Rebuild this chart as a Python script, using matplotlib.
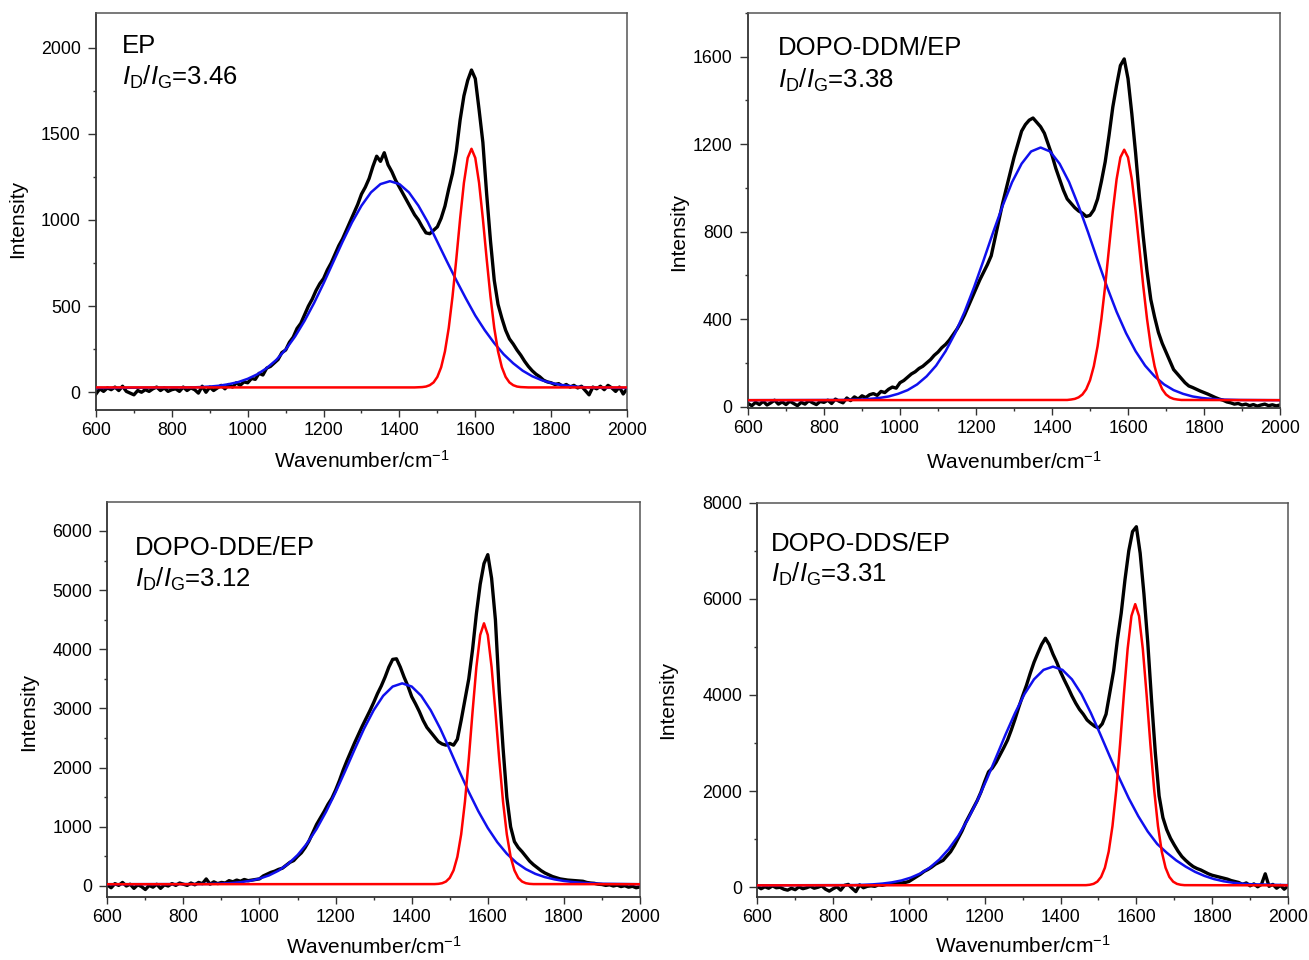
import numpy as np
import matplotlib
matplotlib.use('Agg')
import matplotlib.pyplot as plt
from matplotlib.ticker import MultipleLocator

plt.rcParams['font.family'] = ['Liberation Sans', 'DejaVu Sans']
plt.rcParams['mathtext.fontset'] = 'custom'
plt.rcParams['mathtext.rm'] = 'Liberation Sans'
plt.rcParams['mathtext.it'] = 'Liberation Sans:italic'
plt.rcParams['mathtext.bf'] = 'Liberation Sans:bold'

# measured Raman spectra, read every 10 cm-1
wn = np.arange(600, 2001, 10)

ep_raw = [
    -10, 20, 5, 25, 15, 30, 10, 35, 5, -5,
    -15, 10, 0, 15, 5, 20, 30, 10, 25, 5,
    15, 20, 5, 30, 10, 25, 15, -5, 35, 0,
    30, 10, 25, 40, 20, 45, 30, 55, 40, 60,
    55, 80, 75, 110, 100, 140, 150, 170, 190, 230,
    245, 290, 320, 370, 400, 450, 500, 540, 590, 630,
    660, 710, 750, 800, 850, 890, 940, 990, 1040, 1090,
    1150, 1190, 1240, 1310, 1370, 1340, 1390, 1320, 1280, 1230,
    1190, 1150, 1110, 1070, 1030, 1000, 960, 925, 920, 940,
    960, 1010, 1080, 1180, 1270, 1400, 1580, 1720, 1810, 1870,
    1820, 1640, 1450, 1150, 880, 650, 510, 430, 360, 310,
    280, 245, 215, 180, 150, 125, 105, 90, 70, 60,
    55, 45, 50, 35, 45, 30, 40, 25, 35, 10,
    -15, 30, 20, 35, 15, 40, 25, 5, 30, -10,
    20]

ddm_raw = [
    15, 5, 20, 10, 25, 8, 18, 30, 12, 22,
    10, 25, 15, 5, 20, 12, 28, 18, 10, 24,
    20, 30, 15, 35, 25, 18, 40, 28, 45, 35,
    50, 42, 55, 60, 52, 70, 65, 80, 90, 85,
    110, 120, 135, 150, 160, 175, 185, 200, 215, 235,
    250, 270, 285, 305, 330, 355, 385, 420, 460, 500,
    540, 580, 615, 650, 690, 770, 850, 930, 1000, 1070,
    1140, 1200, 1260, 1290, 1310, 1320, 1300, 1280, 1250, 1200,
    1150, 1090, 1040, 990, 950, 930, 910, 895, 885, 870,
    875, 900, 950, 1030, 1120, 1240, 1370, 1470, 1560, 1590,
    1500, 1340, 1160, 960, 780, 620, 490, 410, 340, 290,
    250, 210, 170, 150, 130, 110, 95, 88, 80, 72,
    65, 58, 50, 42, 35, 30, 22, 18, 12, 15,
    8, 12, 5, 10, 3, 8, 12, 5, 9, 4,
    8]

dde_raw = [
    20, -30, 40, 10, 60, 0, 30, -40, 20, -10,
    -60, 10, -20, 30, -40, 20, 0, 40, 10, 50,
    30, 10, 50, 20, 60, 40, 119, 30, 70, 40,
    60, 50, 90, 70, 100, 80, 110, 90, 100, 110,
    120, 170, 200, 230, 250, 280, 300, 350, 400, 430,
    500, 560, 650, 760, 900, 1040, 1150, 1260, 1380, 1480,
    1620, 1780, 1960, 2120, 2270, 2420, 2560, 2700, 2830, 2960,
    3100, 3250, 3380, 3530, 3700, 3830, 3840, 3700, 3530, 3380,
    3200, 3080, 2950, 2800, 2680, 2600, 2520, 2440, 2400, 2380,
    2410, 2380, 2480, 2800, 3150, 3500, 4000, 4600, 5100, 5450,
    5600, 5200, 4500, 3300, 2340, 1500, 1000, 750, 650, 580,
    500, 420, 360, 310, 260, 220, 190, 160, 140, 120,
    110, 100, 95, 90, 85, 80, 60, 50, 45, 30,
    25, 10, 20, 0, 15, -10, 5, -20, -5, -30,
    -15]

dds_raw = [
    20, -30, 10, -20, 30, -10, 0, -40, -60, -20,
    -50, 10, -30, -10, 20, -20, 0, 30, -40, -80,
    -30, 10, -60, 40, 60, -20, -90, 50, -10, 20,
    30, 20, 50, 40, 60, 70, 60, 80, 90, 100,
    120, 170, 220, 270, 330, 370, 420, 480, 520, 560,
    650, 740, 870, 1020, 1170, 1350, 1500, 1650, 1800, 1980,
    2200, 2400, 2480, 2600, 2750, 2900, 3060, 3270, 3500, 3750,
    3980, 4200, 4450, 4680, 4870, 5050, 5180, 5050, 4850, 4680,
    4480, 4310, 4150, 3980, 3830, 3700, 3600, 3480, 3410, 3350,
    3310, 3400, 3600, 4050, 4500, 5150, 5700, 6400, 7000, 7400,
    7500, 6950, 6100, 5100, 3900, 2800, 1900, 1450, 1200, 1020,
    880, 750, 640, 560, 490, 430, 390, 360, 320, 280,
    250, 230, 210, 190, 170, 140, 120, 100, 60, 90,
    30, 70, 10, 60, 280, 20, 60, -20, 40, -40,
    30]

# fitted D band (blue)
ep_d_x = np.r_[600, np.arange(850, 1901, 25), 2000]
ep_d = [25, 28, 30, 33, 38, 47, 59, 78, 104, 140, 187, 248, 324, 415, 518, 632,
        753, 873, 986, 1083, 1160, 1208, 1225, 1208, 1160, 1083, 986, 873, 760,
        650, 545, 445, 360, 285, 220, 168, 125, 93, 70, 54, 43, 36, 31, 28, 25]

ddm_d_x = np.r_[600, np.arange(845, 1896, 25), 2000]
ddm_d = [30, 31, 32, 33, 36, 40, 47, 59, 76, 102, 139, 188, 254, 336, 434, 547,
         670, 797, 918, 1027, 1111, 1167, 1185, 1167, 1111, 1027, 918, 797, 670,
         547, 434, 336, 254, 188, 139, 102, 76, 59, 47, 40, 36, 33, 32, 31, 30]

dde_d_x = np.r_[600, np.arange(850, 1901, 25), 2000]
dde_d = [30, 33, 36, 41, 49, 64, 87, 124, 179, 259, 372, 522, 719, 964, 1256, 1585,
         1941, 2308, 2661, 2970, 3214, 3371, 3425, 3371, 3214, 2970, 2661, 2308,
         1941, 1590, 1265, 980, 740, 545, 395, 285, 205, 150, 112, 85, 66, 53, 44,
         38, 30]

dds_d_x = np.r_[600, np.arange(855, 1906, 25), 2000]
dds_d = [40, 46, 52, 61, 77, 102, 141, 201, 287, 409, 577, 795, 1068, 1405, 1796,
         2238, 2706, 3180, 3625, 4021, 4326, 4522, 4590, 4522, 4326, 4021, 3625,
         3180, 2720, 2270, 1850, 1480, 1160, 900, 720, 560, 430, 320, 235, 170,
         125, 95, 75, 62, 45]

# fitted G band (red)
ep_g_x = np.r_[600, np.arange(1440, 1741, 10), 2000]
ep_g = [28, 28, 29, 30, 33, 41, 57, 89, 145, 237, 373, 556, 774, 1007, 1215, 1360,
        1413, 1360, 1215, 1007, 774, 556, 373, 237, 145, 89, 57, 41, 33, 30, 29, 28,
        28]

ddm_g_x = np.r_[600, np.arange(1440, 1741, 10), 2000]
ddm_g = [30, 31, 33, 36, 43, 56, 80, 121, 185, 277, 402, 554, 725, 894, 1040, 1140,
         1175, 1140, 1040, 894, 725, 554, 402, 277, 185, 121, 80, 56, 43, 36, 33, 31,
         30]

dde_g_x = np.r_[600, np.arange(1460, 1721, 10), 2000]
dde_g = [30, 32, 36, 47, 75, 137, 264, 493, 872, 1428, 2147, 2949, 3699, 4242, 4440,
         4242, 3699, 2949, 2147, 1428, 872, 493, 264, 137, 75, 47, 36, 32, 30]

dds_g_x = np.r_[600, np.arange(1467, 1728, 10), 2000]
dds_g = [40, 44, 52, 71, 117, 216, 407, 742, 1274, 2023, 2971, 4006, 4960, 5644,
         5890, 5644, 4960, 4006, 2971, 2023, 1274, 742, 407, 216, 117, 71, 52, 44, 40]

samples = ['EP', 'DOPO-DDM/EP', 'DOPO-DDE/EP', 'DOPO-DDS/EP']
ratios = ['3.46', '3.38', '3.12', '3.31']

panels = [
    # axes rect, ylim, major, minor, text x, name y, ratio y, ylabel xy, xlabel y
    dict(rect=[0.07334, 0.57292, 0.40565, 0.41354], ylim=(-103, 2201), major=500, minor=250,
         tx=0.049, ty1=0.898, ty2=0.819, ylab=(-0.130, 0.482), xlab=-0.100,
         raw=ep_raw, dx=ep_d_x, d=ep_d, gx=ep_g_x, g=ep_g),
    dict(rect=[0.57143, 0.57448, 0.40642, 0.41198], ylim=(-8, 1800), major=400, minor=200,
         tx=0.057, ty1=0.894, ty2=0.812, ylab=(-0.113, 0.446), xlab=-0.106,
         raw=ddm_raw, dx=ddm_d_x, d=ddm_d, gx=ddm_g_x, g=ddm_g),
    dict(rect=[0.08197, 0.06594, 0.40695, 0.41146], ylim=(-181, 6495), major=1000, minor=500,
         tx=0.052, ty1=0.865, ty2=0.785, ylab=(-0.1295, 0.468), xlab=-0.100,
         raw=dde_raw, dx=dde_d_x, d=dde_d, gx=dde_g_x, g=dde_g),
    dict(rect=[0.57853, 0.06594, 0.40542, 0.41042], ylim=(-196, 8000), major=2000, minor=1000,
         tx=0.026, ty1=0.878, ty2=0.800, ylab=(-0.151, 0.50), xlab=-0.097,
         raw=dds_raw, dx=dds_d_x, d=dds_d, gx=dds_g_x, g=dds_g),
]

fig = plt.figure(figsize=(13.09, 9.6), dpi=100)

for p, name, ratio in zip(panels, samples, ratios):
    ax = fig.add_axes(p['rect'])
    ax.plot(wn, p['raw'], color='black', lw=2.4, zorder=2)
    ax.plot(p['dx'], p['d'], color='#1010ee', lw=1.8, zorder=3)
    ax.plot(p['gx'], p['g'], color='#ff0000', lw=1.8, zorder=4)

    ax.set_xlim(600, 2000)
    ax.set_ylim(*p['ylim'])
    ax.xaxis.set_major_locator(MultipleLocator(200))
    ax.xaxis.set_minor_locator(MultipleLocator(100))
    ax.yaxis.set_major_locator(MultipleLocator(p['major']))
    ax.yaxis.set_minor_locator(MultipleLocator(p['minor']))
    ax.tick_params(axis='x', which='major', direction='out', length=5, width=1, pad=3.5,
                   labelsize=12.8, color='#333333')
    ax.tick_params(axis='y', which='major', direction='out', length=6, width=1, pad=5,
                   labelsize=12.8, color='#333333')
    ax.tick_params(which='minor', direction='out', length=2.5, width=1, color='#333333')

    for side in ['left', 'bottom']:
        ax.spines[side].set_linewidth(1.3)
        ax.spines[side].set_color('#333333')
    for side in ['top', 'right']:
        ax.spines[side].set_linewidth(1.1)
        ax.spines[side].set_color('#555555')

    ax.set_ylabel('Intensity', fontsize=15)
    ax.yaxis.set_label_coords(*p['ylab'])
    ax.set_xlabel('Wavenumber/cm$^{-1}$', fontsize=15)
    ax.xaxis.set_label_coords(0.5, p['xlab'])

    ax.text(p['tx'], p['ty1'], name, transform=ax.transAxes, fontsize=18.5,
            ha='left', va='baseline')
    ax.text(p['tx'], p['ty2'], r'$I_{\mathrm{D}}/I_{\mathrm{G}}$=' + ratio,
            transform=ax.transAxes, fontsize=18.5, ha='left', va='baseline')

fig.savefig('out.png', dpi=100)
